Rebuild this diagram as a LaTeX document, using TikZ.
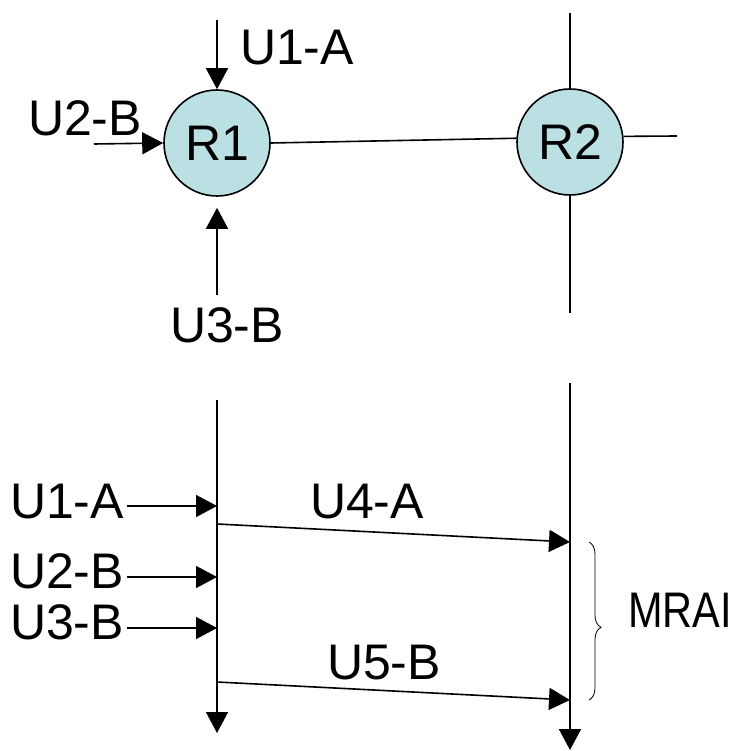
\documentclass[tikz,border=0pt]{standalone}
\usepackage{fontspec}
\setmainfont{Liberation Sans}
\usepackage{tikz}
\usetikzlibrary{arrows.meta}
\usetikzlibrary{decorations.pathreplacing}
\usepackage{xcolor}
\definecolor{routerfill}{RGB}{187,224,227}

\tikzset{
  router/.style={circle,draw,line width=1.6pt,fill=routerfill,minimum size=106pt,inner sep=0pt,font=\fontsize{50}{60}\selectfont},
  lbl/.style={inner sep=3pt,font=\fontsize{50}{60}\selectfont},
  msg/.style={line width=1.6pt,-{Triangle[length=21pt,width=22pt]}},
  wire/.style={line width=1.6pt}
}

\begin{document}
\begin{tikzpicture}[x=1pt,y=-1pt]

  \useasboundingbox (0,0) rectangle (734,751);

  % topology
  \node[router] (R1) at (217,143) {R1};
  \node[router] (R2) at (570,142) {R2};
  \draw[wire] (R1.east) -- (R2.176);
  \draw[wire] (R2.6) -- (677,136);
  \draw[wire] (R2.north) -- (570,13);
  \draw[wire] (R2.south) -- (570,313);

  \node[lbl] (topu1a) at (297,48) {U1-A};
  \node[lbl] (topu2b) at (85,118) {U2-B};
  \node[lbl] (topu3b) at (227,325) {U3-B};
  \coordinate (in1) at (217,20);
  \coordinate (in2) at (94,144);
  \coordinate (in3) at (217,295);
  \draw[msg] (in1) -- (R1.north);
  \draw[msg] (in2) -- (R1.west);
  \draw[msg,shorten >=11pt] (in3) -- (R1.south);

  % timelines
  \coordinate (t1top) at (217,400);
  \coordinate (t1bot) at (217,733);
  \coordinate (t2top) at (570,383);
  \coordinate (t2bot) at (570,750);
  \draw[msg] (t1top) -- (t1bot);
  \draw[msg] (t2top) -- (t2bot);

  \node[lbl] (u1a) at (67,502) {U1-A};
  \node[lbl] (u2b) at (67,571) {U2-B};
  \node[lbl] (u3b) at (67,622) {U3-B};
  \coordinate (a1) at (217,506);
  \coordinate (a2) at (217,577);
  \coordinate (a3) at (217,628);
  \draw[msg] (u1a.east |- a1) -- (a1);
  \draw[msg] (u2b.east |- a2) -- (a2);
  \draw[msg] (u3b.east |- a3) -- (a3);

  \coordinate (s4) at (217,524);
  \coordinate (r4) at (570,542);
  \coordinate (s5) at (217,682);
  \coordinate (r5) at (570,700);
  \draw[msg] (s4) -- (r4);
  \draw[msg] (s5) -- (r5);
  \node[lbl] (u4a) at (367,502) {U4-A};
  \node[lbl] (u5b) at (384,663) {U5-B};

  % interval
  \draw[line width=0.8pt,decorate,decoration={brace,amplitude=12pt,aspect=0.54}]
    (589,542) -- (589,700);
  \node[lbl,inner sep=0pt,anchor=west,xscale=0.83,transform shape] (mrai) at (628,610) {MRAI};

\end{tikzpicture}
\end{document}
